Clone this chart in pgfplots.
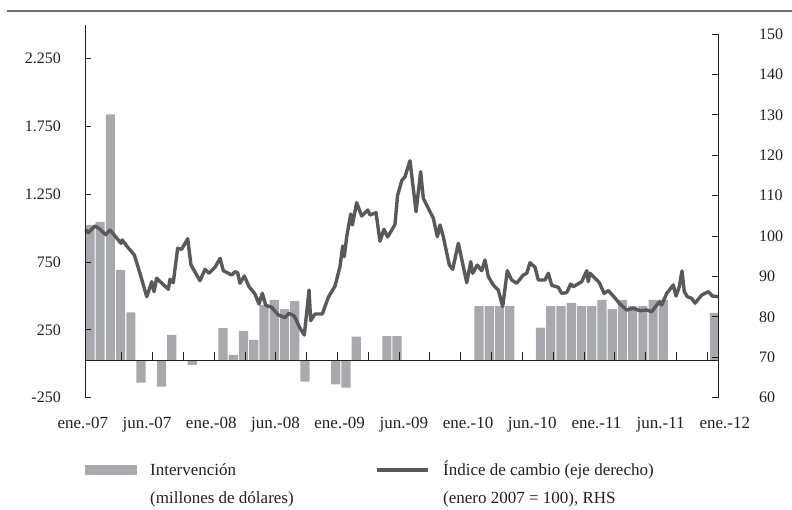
\documentclass[border=0pt]{standalone}
\usepackage{pgfplots}
\pgfplotsset{compat=1.18}
\usepackage{fontspec}
\setmainfont{Liberation Serif}
\definecolor{barcol}{HTML}{A7A9AC}
\definecolor{linecol}{HTML}{58595B}
\definecolor{axcol}{HTML}{231F20}
\definecolor{rulecol}{HTML}{6D6E71}
\begin{document}
\begin{tikzpicture}
% Bars: intervention (millions of dollars), with the zero line and its ticks
\begin{axis}[at={(85.7pt,112.3pt)}, anchor=south west,
  x=10.24pt, y=0.1356pt, xmin=-0.41, xmax=61.37, ymin=-272.9, ymax=2477.1,
  enlargelimits=false, hide axis]
\addplot[ybar, bar width=0.9, bar shift=0pt, fill=barcol, draw=none] coordinates {
(0,1001) (1,1023) (2,1817) (3,669) (4,357) (5,-162) (7,-192) (8,190) (10,-30)
(13,241) (14,42) (15,219) (16,153) (17,411) (18,448) (19,381) (20,440) (21,-155)
(24,-174) (25,-199) (26,177) (29,182) (30,182)
(38,403) (39,403) (40,403) (41,403) (44,243) (45,403) (46,403) (47,426) (48,403)
(49,403) (50,448) (51,381) (52,448) (53,403) (54,403) (55,448) (56,448) (61,352)};
\addplot[axcol, line width=0.9pt, mark=none] coordinates {(-0.41,0) (61.37,0)};
\addplot[ycomb, axcol, line width=1pt, mark=none] coordinates {
(3.11,62) (6.12,62) (9.13,62) (12.14,62) (15.15,62) (18.16,62) (21.17,62) (24.18,62) (27.19,62) (30.20,62)
(33.21,62) (36.22,62) (39.23,62) (42.24,62) (45.25,62) (48.26,62) (51.27,62) (54.28,62) (57.29,62) (60.30,62)};
\end{axis}
% Right axis: exchange-rate index
\begin{axis}[at={(85.7pt,112.3pt)}, anchor=south west,
  x=10.24pt, y=4.04pt, xmin=-0.41, xmax=61.37, ymin=60, ymax=152.3,
  enlargelimits=false, clip=false, axis y line*=right, axis x line=none,
  ytick={60,70,80,90,100,110,120,130,140,150},
  yticklabels={60,70,80,90,100,110,120,130,140,150},
  tick align=inside, major tick length=6pt,
  y axis line style={draw=none}, ytick style={axcol, line width=0.9pt},
  yticklabel style={anchor=west, inner sep=0pt, xshift=40.7pt, text=axcol, font=\fontsize{16}{19}\selectfont}]
\addplot[linecol, line width=3.4pt, line join=round] coordinates {
(-0.41,101.6) (-0.16,100.84) (0.50,102.50) (0.99,101.68) (1.54,100.35) (1.96,101.51) (2.45,100.03) (2.77,99.04) (3.04,98.22) (3.16,99.04) (3.59,97.55) (4.34,95.32) (4.89,90.79) (5.55,85.00) (6.04,88.71) (6.26,86.24) (6.52,89.55) (7.66,86.83) (7.82,89.31) (8.14,88.47) (8.57,96.98) (8.96,96.73) (9.55,99.36) (9.87,92.85) (10.75,88.96) (11.24,91.78) (11.63,90.79) (12.22,92.28) (12.71,94.50) (13.03,91.44) (13.85,90.37) (14.17,91.19) (14.43,90.94) (14.66,88.32) (15.08,90.12) (15.54,87.48) (16.12,85.67) (16.51,83.19) (16.84,85.84) (17.17,82.87) (17.75,82.38) (18.40,80.47) (19.05,79.80) (19.44,80.89) (19.96,80.22) (20.52,77.18) (20.94,75.52) (21.40,86.66) (21.56,79.06) (21.98,80.72) (22.70,80.72) (23.28,84.85) (23.94,87.65) (24.42,92.43) (24.69,97.55) (24.84,94.90) (25.08,99.85) (25.47,105.47) (25.63,102.75) (26.05,108.27) (26.54,104.98) (27.13,106.46) (27.35,105.22) (27.94,105.79) (28.33,98.74) (28.72,101.68) (29.08,99.78) (29.79,102.85) (30.04,109.98) (30.45,113.71) (30.77,114.70) (31.26,118.66) (31.85,106.04) (32.30,115.94) (32.56,109.36) (33.54,104.41) (33.93,99.85) (34.19,102.75) (34.51,99.85) (35.10,92.85) (35.43,91.78) (35.98,98.22) (36.80,88.47) (37.19,93.66) (37.38,90.79) (37.83,92.85) (38.26,91.44) (38.58,94.08) (38.91,89.95) (39.39,87.90) (39.88,86.66) (40.31,82.53) (40.76,91.44) (41.19,89.13) (41.68,88.32) (42.32,90.37) (42.66,90.79) (42.98,93.42) (43.47,92.28) (43.79,89.13) (44.44,89.13) (44.77,90.79) (45.10,87.82) (45.74,87.33) (46.07,85.84) (46.56,85.99) (46.95,88.14) (47.21,87.48) (48.03,88.71) (48.52,91.44) (48.67,88.71) (48.84,90.79) (49.75,88.47) (50.21,85.84) (50.63,86.49) (51.11,85.17) (51.77,83.19) (52.42,81.71) (53.07,82.13) (53.72,81.53) (54.38,81.71) (54.86,81.29) (55.61,83.76) (55.84,82.95) (56.33,85.84) (56.97,87.90) (57.24,85.17) (57.56,87.48) (57.82,91.36) (58.05,86.24) (58.34,85.00) (58.77,84.60) (59.09,83.37) (59.75,85.42) (60.39,86.24) (60.78,85.17) (61.37,85.00)};
\draw[axcol, line width=0.9pt] (axis cs:61.37,60) -- (axis cs:61.37,150);
\end{axis}
% Date labels along the bottom
\begin{axis}[at={(74.54pt,112.3pt)}, anchor=south west,
  x=10.24pt, y=1pt, xmin=-1.5, xmax=63, ymin=0, ymax=10,
  enlargelimits=false, axis x line*=bottom, axis y line=none, ytick=\empty,
  x axis line style={draw=none}, xtick style={draw=none},
  xtick={-0.69,5.58,11.85,18.12,24.39,30.66,36.93,43.20,49.47,55.74,62.01},
  xticklabels={ene.-07,jun.-07,ene.-08,jun.-08,ene.-09,jun.-09,ene.-10,jun.-10,ene.-11,jun.-11,ene.-12},
  xticklabel style={anchor=base, inner sep=0pt, yshift=-30.6pt, text=axcol, font=\fontsize{17}{20}\selectfont}]
\end{axis}
% Left axis
\begin{axis}[at={(85.7pt,112.3pt)}, anchor=south west,
  x=10.24pt, y=0.1356pt, xmin=-0.41, xmax=61.37, ymin=-250, ymax=2500,
  enlargelimits=false, axis y line*=left, axis x line=none,
  ytick={-250,250,750,1250,1750,2250},
  yticklabels={-250,250,750,1.250,1.750,2.250},
  tick align=inside, major tick length=5pt,
  y axis line style={axcol, line width=0.9pt}, ytick style={axcol, line width=0.9pt},
  yticklabel style={anchor=east, inner sep=0pt, xshift=-24.7pt, text=axcol, font=\fontsize{16}{19}\selectfont}]
\end{axis}
% Top rule
\draw[rulecol, line width=2pt] (7.3pt,499pt) -- (792pt,499pt);
% Legend
\fill[barcol] (85pt,35pt) rectangle (137pt,45pt);
\node[anchor=base west, inner sep=0pt, text=axcol, font=\fontsize{17}{20}\selectfont] at (150pt,34pt) {Intervención};
\node[anchor=base west, inner sep=0pt, text=axcol, font=\fontsize{17}{20}\selectfont] at (150pt,6.5pt) {(millones de dólares)};
\draw[linecol, line width=3.4pt] (377pt,40pt) -- (428pt,40pt);
\node[anchor=base west, inner sep=0pt, text=axcol, font=\fontsize{17}{20}\selectfont] at (443pt,34pt) {Índice de cambio (eje derecho)};
\node[anchor=base west, inner sep=0pt, text=axcol, font=\fontsize{17}{20}\selectfont] at (443pt,6.5pt) {(enero 2007 = 100), RHS};
\pgfresetboundingbox
\path[use as bounding box] (0pt,0pt) rectangle (792pt,510pt);
\end{tikzpicture}
\end{document}
